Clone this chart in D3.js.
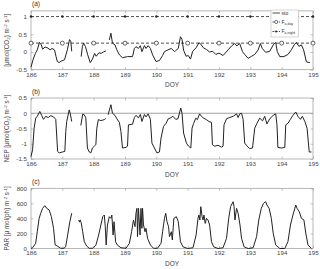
<!DOCTYPE html>
<html>
<head>
<meta charset="utf-8">
<script src="https://cdn.jsdelivr.net/npm/d3@7"></script>
<style>
  body { margin: 0; background: #fff; }
  svg { display: block; font-family: "Liberation Sans", Arial, sans-serif; }
  .tick text { fill: #444; font-size: 6.2px; }
  .tick line { stroke: #999; stroke-width: 0.6; }
  .domain { display: none; }
</style>
</head>
<body>
<div id="chart"></div>
<script>
// x axis ticks (day of year)
const doyTicks = [186, 187, 188, 189, 190, 191, 192, 193, 194, 195];

// panel (a): sto, with null for gaps
const stoDoy = [186.0, 186.06, 186.14, 186.2, 186.27, 186.33, 186.37, 186.45, 186.54, 186.61, 186.67, 186.75, 186.8, 186.84, 186.9, 186.96, 187.07, 187.16, 187.23, 187.27, 187.3,
  187.45,
  187.6, 187.64, 187.68, 187.74, 187.81, 187.89, 187.96, 188.03, 188.08, 188.17, 188.24, 188.31, 188.39,
  188.44,
  188.5, 188.55, 188.6, 188.68, 188.74, 188.82, 188.92, 189.08, 189.24, 189.3, 189.35, 189.43, 189.49, 189.54, 189.62, 189.67, 189.74, 189.81, 189.88, 189.99,
  190.1, 190.2, 190.26, 190.37, 190.48, 190.58, 190.62, 190.7, 190.77, 190.82, 190.87, 190.95, 191.02, 191.09, 191.16, 191.27, 191.36, 191.42, 191.5, 191.6,
  191.7, 191.8, 191.9, 192.0, 192.13, 192.29, 192.4, 192.5, 192.57, 192.66, 192.75, 192.82, 192.93, 193.04, 193.14, 193.25, 193.32, 193.38, 193.49, 193.62,
  193.73, 193.81, 193.86, 193.94, 194.07, 194.2, 194.31, 194.4, 194.47, 194.55, 194.63, 194.7, 194.79, 194.9];
const stoVal = [-0.43, -0.23, -0.04, 0.06, 0.27, 0.2, 0.08, 0.14, 0.11, 0.06, 0.1, 0.06, -0.13, -0.27, -0.3, -0.26, -0.22, 0.06, 0.35, 0.3, 0.02,
  null,
  -0.13, 0.15, 0.25, 0.15, -0.08, -0.3, -0.2, -0.04, -0.12, -0.02, -0.04, 0.0, 0.03,
  null,
  0.34, 0.53, 0.25, 0.2, 0.06, -0.08, -0.16, -0.13, -0.13, 0.1, 0.15, 0.1, 0.18, 0.01, 0.18, 0.1, 0.18, 0.1, -0.08, -0.27,
  -0.24, -0.1, 0.01, 0.06, 0.1, 0.01, 0.04, 0.1, 0.43, 0.36, 0.05, -0.12, -0.1, -0.2, 0.02, 0.12, 0.26, 0.22, 0.12, 0.07,
  0.0, 0.02, -0.07, -0.03, -0.1, 0.06, 0.17, 0.24, 0.17, 0.24, 0.01, -0.07, -0.18, -0.12, -0.07, 0.06, 0.24, 0.1, -0.01, 0.02,
  0.2, 0.27, 0.01, -0.13, -0.13, -0.07, 0.06, 0.2, 0.27, 0.16, 0.2, 0.06, -0.28, -0.3];

// panel (a): F_a,day and F_a,night
const faDoy = [186, 187, 188, 189, 190, 191, 192, 193, 194, 195];
const faDayVal = [0.25, 0.25, 0.25, 0.25, 0.25, 0.25, 0.25, 0.25, 0.25, 0.25];
const faNightVal = [1, 1, 1, 1, 1, 1, 1, 1, 1, 1];

// panel (b): NEP
const nepDoy = [186.0, 186.05, 186.1, 186.15, 186.2, 186.28, 186.34, 186.4, 186.47, 186.55, 186.63, 186.72, 186.79, 186.85, 186.9, 187.0, 187.08, 187.11, 187.14, 187.22, 187.25, 187.3,
  187.45,
  187.59, 187.65, 187.7, 187.75, 187.8, 187.86, 187.91, 187.96, 188.02, 188.07, 188.1, 188.15, 188.23, 188.34, 188.39,
  188.43,
  188.46, 188.55, 188.6, 188.68, 188.74, 188.82, 188.87, 188.92, 189.03, 189.08, 189.11, 189.24, 189.3, 189.35, 189.43, 189.49, 189.54, 189.62, 189.67, 189.74, 189.81, 189.86, 189.94,
  190.02, 190.1, 190.15, 190.23, 190.31, 190.38, 190.44, 190.53, 190.62, 190.69, 190.78, 190.82, 190.87, 190.96, 191.03, 191.1, 191.14, 191.19, 191.26, 191.31, 191.38, 191.44,
  191.51, 191.6, 191.68, 191.76, 191.79, 191.86, 191.97, 192.08, 192.13, 192.16, 192.24, 192.34, 192.45, 192.56, 192.61, 192.66, 192.72, 192.77, 192.82, 192.9, 192.98,
  193.07, 193.14, 193.21, 193.3, 193.39, 193.46, 193.53, 193.62, 193.73, 193.81, 193.85, 193.88, 193.99, 194.1, 194.13, 194.2, 194.28, 194.36, 194.45, 194.52, 194.6,
  194.66, 194.74, 194.81, 194.88, 194.95];
const nepVal = [-1.42, -1.2, -0.49, -0.16, -0.1, 0.06, -0.07, -0.2, -0.1, -0.14, -0.08, -0.12, -0.2, -1.25, -1.3, -1.27, -1.25, -0.6, -0.27, 0.11, 0.0, -0.27,
  null,
  -0.4, -0.03, -0.05, -0.15, -1.14, -1.27, -1.3, -1.14, -1.08, -1.03, -0.49, -0.21, -0.24, -0.21, -0.17,
  null,
  -0.05, 0.28, 0.0, -0.07, -0.18, -0.3, -0.6, -1.14, -1.12, -1.08, -0.38, -0.36, -0.14, -0.07, -0.15, -0.04, -0.27, -0.04, -0.12, -0.02, -0.2, -0.98, -1.14,
  -1.3, -1.27, -0.81, -0.43, -0.33, -0.18, -0.16, -0.1, -0.2, -0.18, 0.17, 0.0, -0.65, -0.98, -1.08, -1.14, -0.49, -0.33, -0.16, -0.21, -0.02, -0.1,
  -0.16, -0.21, -0.27, -0.3, -1.03, -1.08, -1.05, -1.11, -1.08, -0.38, -0.18, -0.14, -0.1, -0.02, -0.14, -0.02, 0.0, -0.2, -0.98, -1.08, -1.16,
  -1.14, -0.49, -0.33, -0.16, -0.25, -0.1, -0.35, -0.18, -0.07, -0.02, -0.38, -1.12, -1.14, -1.12, -0.38, -0.33, -0.2, -0.07, 0.04, -0.1, -0.2,
  -0.1, -0.27, -0.49, -1.27, -1.27];

// panel (c): PAR
const parDoy = [186.0, 186.05, 186.15, 186.2, 186.26, 186.31, 186.37, 186.44, 186.5, 186.58, 186.65, 186.72, 186.77, 186.85, 186.95, 187.06, 187.11, 187.17, 187.24, 187.3,
  187.4,
  187.52, 187.55, 187.57, 187.6, 187.65, 187.7, 187.78, 187.86, 187.96, 188.07, 188.16, 188.23, 188.29, 188.34, 188.37, 188.4, 188.44, 188.5, 188.55, 188.58, 188.62,
  188.65, 188.7, 188.76, 188.87, 189.03, 189.14, 189.21, 189.27, 189.32, 189.35, 189.38, 189.4, 189.43, 189.48, 189.51, 189.54, 189.56, 189.59, 189.64, 189.67, 189.72,
  189.81, 189.91, 190.04, 190.15, 190.2, 190.26, 190.3, 190.34, 190.39, 190.42, 190.48, 190.51, 190.56, 190.64, 190.7, 190.77, 190.85, 191.0, 191.17, 191.27, 191.33,
  191.36, 191.39, 191.42, 191.46, 191.49, 191.52, 191.56, 191.6, 191.65, 191.7, 191.76, 191.83, 191.97, 192.13, 192.24, 192.31, 192.37, 192.45, 192.48, 192.51, 192.56,
  192.61, 192.67, 192.72, 192.8, 192.93, 193.09, 193.2, 193.27, 193.35, 193.42, 193.49, 193.53, 193.6, 193.67, 193.73, 193.81, 193.94, 194.1, 194.2, 194.28, 194.36,
  194.42, 194.45, 194.49, 194.56, 194.63, 194.71, 194.77, 194.84, 194.95];
const parVal = [0, 10, 69, 223, 401, 468, 534, 569, 534, 512, 423, 268, 47, 30, 3, 3, 30, 180, 356, 468,
  null,
  379, 350, 380, 345, 223, 90, 30, 3, 3, 43, 180, 312, 423, 445, 290, 47, 312, 423, 401, 445, 180,
  356, 90, 43, 10, 3, 69, 223, 379, 290, 468, 534, 158, 534, 180, 534, 268, 534, 312, 223, 268, 135,
  47, 3, 3, 69, 223, 401, 468, 356, 290, 157, 223, 113, 401, 423, 356, 90, 23, 0, 10, 180, 401,
  445, 379, 556, 423, 379, 445, 334, 401, 379, 312, 90, 23, 0, 10, 135, 401, 556, 622, 556, 379, 534,
  468, 312, 135, 23, 0, 10, 158, 379, 534, 600, 622, 578, 534, 401, 203, 47, 0, 0, 90, 312, 445,
  534, 578, 534, 490, 401, 379, 203, 47, 0];

const width = 320, height = 269;
const left = 31, right = 313;
const lineColor = "#222";
const boxColor = "#999";

const svg = d3.select("#chart").append("svg")
  .attr("width", width)
  .attr("height", height);

svg.append("rect").attr("width", width).attr("height", height).attr("fill", "#fff");

const x = d3.scaleLinear().domain([186, 195]).range([left, right]);

// panel definitions: y scale and labels
const panels = [
  { tag: "(a)", y: d3.scaleLinear().domain([-0.5, 1.16]).range([69.7, 10.9]),
    yTicks: [-0.5, 0, 0.5, 1], prefix: "" },
  { tag: "(b)", y: d3.scaleLinear().domain([-1.5, 0.5]).range([159, 98]),
    yTicks: [-1.5, -1, -0.5, 0, 0.5], prefix: "NEP " },
  { tag: "(c)", y: d3.scaleLinear().domain([0, 800]).range([248.5, 188.3]),
    yTicks: [0, 200, 400, 600, 800], prefix: "PAR " }
];

function drawFrame(p, i) {
  const y = p.y;
  const top = y.range()[1], bottom = y.range()[0];
  const g = svg.append("g").attr("color", "#444");

  g.append("g")
    .attr("transform", `translate(0,${bottom})`)
    .call(d3.axisBottom(x).tickValues(doyTicks).tickSizeInner(-2.5).tickSizeOuter(0).tickPadding(2.5));
  g.append("g")
    .attr("transform", `translate(0,${top})`)
    .call(d3.axisTop(x).tickValues(doyTicks).tickSizeInner(-2.5).tickSizeOuter(0).tickFormat(""));
  g.append("g")
    .attr("transform", `translate(${left},0)`)
    .call(d3.axisLeft(y).tickValues(p.yTicks).tickSizeInner(-2.5).tickSizeOuter(0).tickPadding(4)
      .tickFormat(d => String(d)));
  g.append("g")
    .attr("transform", `translate(${right},0)`)
    .call(d3.axisRight(y).tickValues(p.yTicks).tickSizeInner(-2.5).tickSizeOuter(0).tickFormat(""));

  g.append("rect")
    .attr("x", left).attr("y", top)
    .attr("width", right - left).attr("height", bottom - top)
    .attr("fill", "none").attr("stroke", boxColor).attr("stroke-width", 0.7);

  // panel tag
  svg.append("text").attr("x", left + 1).attr("y", top - 4.5)
    .attr("font-size", 6.5).attr("fill", "#333").text(p.tag);

  // DOY label
  svg.append("text").attr("x", (left + right) / 2).attr("y", bottom + 17.5)
    .attr("text-anchor", "middle").attr("font-size", 6.5).attr("fill", "#444").text("DOY");

  // y label
  const yl = svg.append("text")
    .attr("transform", `translate(7,${(top + bottom) / 2}) rotate(-90)`)
    .attr("text-anchor", "middle").attr("dy", "0.35em")
    .attr("font-size", 6.3).attr("fill", "#444");
  if (i < 2) {
    yl.append("tspan").text(p.prefix + "[μmol(CO");
    yl.append("tspan").attr("font-size", 4.4).attr("baseline-shift", "-25%").text("2");
    yl.append("tspan").text(") m");
  } else {
    yl.append("tspan").text(p.prefix + "[μ mol(ph) m");
  }
  yl.append("tspan").attr("font-size", 4.4).attr("baseline-shift", "45%").text("-2");
  yl.append("tspan").text(" s");
  yl.append("tspan").attr("font-size", 4.4).attr("baseline-shift", "45%").text("-1");
  yl.append("tspan").text("]");
}

panels.forEach(drawFrame);

function series(doys, vals) {
  return doys.map((d, i) => ({ doy: d, v: vals[i] }));
}

function drawLine(data, y, opts) {
  const line = d3.line()
    .defined(d => d.v !== null)
    .x(d => x(d.doy))
    .y(d => y(d.v));
  return svg.append("path")
    .datum(data)
    .attr("fill", "none")
    .attr("stroke", lineColor)
    .attr("stroke-width", opts.width || 1)
    .attr("stroke-dasharray", opts.dash || null)
    .attr("stroke-linejoin", "round")
    .attr("d", line);
}

// panel (a)
const ya = panels[0].y;
const dayData = series(faDoy, faDayVal);
const nightData = series(faDoy, faNightVal);
drawLine(nightData, ya, { dash: "3,2", width: 0.8 });
svg.selectAll(".night-pt").data(nightData).enter().append("circle")
  .attr("cx", d => x(d.doy)).attr("cy", d => ya(d.v)).attr("r", 1.2).attr("fill", lineColor);
drawLine(dayData, ya, { dash: "3,2", width: 0.8 });
svg.selectAll(".day-pt").data(dayData).enter().append("circle")
  .attr("cx", d => x(d.doy)).attr("cy", d => ya(d.v)).attr("r", 2)
  .attr("fill", "#fff").attr("stroke", lineColor).attr("stroke-width", 0.7);
drawLine(series(stoDoy, stoVal), ya, { width: 1 });

// legend
const lg = svg.append("g");
lg.append("rect").attr("x", 271).attr("y", 10).attr("width", 27.5).attr("height", 27)
  .attr("fill", "#fff").attr("stroke", "#aaa").attr("stroke-width", 0.5);
const legendItems = [
  { name: "sto", sub: "", y: 13, dash: null, marker: null },
  { name: "F", sub: "a,day", y: 22, dash: "2,1.2", marker: "open" },
  { name: "F", sub: "a,night", y: 31.5, dash: "2,1.2", marker: "dot" }
];
legendItems.forEach(it => {
  lg.append("line").attr("x1", 272.5).attr("x2", 280).attr("y1", it.y).attr("y2", it.y)
    .attr("stroke", lineColor).attr("stroke-width", 0.8).attr("stroke-dasharray", it.dash);
  if (it.marker === "open") {
    lg.append("circle").attr("cx", 276.2).attr("cy", it.y).attr("r", 1.6)
      .attr("fill", "#fff").attr("stroke", lineColor).attr("stroke-width", 0.6);
  } else if (it.marker === "dot") {
    lg.append("circle").attr("cx", 276.2).attr("cy", it.y).attr("r", 1).attr("fill", lineColor);
  }
  const t = lg.append("text").attr("x", 281.5).attr("y", it.y).attr("dy", "0.35em")
    .attr("font-size", 5).attr("fill", "#333");
  t.append("tspan").text(it.name);
  if (it.sub) t.append("tspan").attr("font-size", 3.5).attr("baseline-shift", "-30%").text(it.sub);
});

// panel (b)
const yb = panels[1].y;
svg.append("line").attr("x1", left).attr("x2", right).attr("y1", yb(0)).attr("y2", yb(0))
  .attr("stroke", "#888").attr("stroke-width", 0.8);
drawLine(series(nepDoy, nepVal), yb, { width: 1 });

// panel (c)
drawLine(series(parDoy, parVal), panels[2].y, { width: 1 });
</script>
</body>
</html>
